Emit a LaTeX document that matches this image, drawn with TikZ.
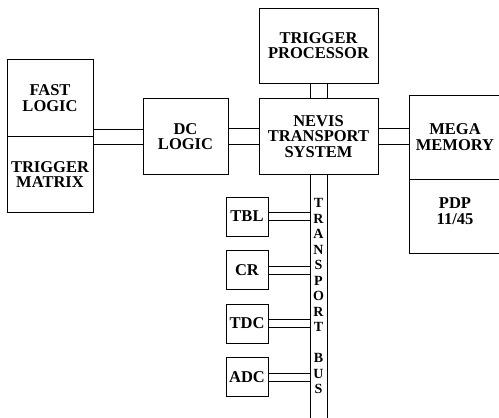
\documentclass[tikz,border=0pt]{standalone}
\usepackage{fontspec}
\setmainfont{Liberation Serif}
\usetikzlibrary{positioning}
\tikzset{
  unit/.style={draw, line width=0.9pt, inner sep=0pt, align=center,
    font=\fontsize{16.5}{15.5}\selectfont\bfseries},
  link/.style={line width=0.9pt},
}

\begin{document}
\begin{tikzpicture}[x=1pt,y=-1pt]
  \useasboundingbox (0,0) rectangle (499,418);
  % Left column
  \node[unit, minimum width=86pt, minimum height=77pt] (fast) at (50,98) {FAST\\LOGIC};
  \node[unit, minimum width=86pt, minimum height=76pt] (trigmatrix) at (50,174.5) {TRIGGER\\MATRIX};
  \node[unit, minimum width=85pt, minimum height=76pt] (dclogic) at (185.5,136.5) {DC\\LOGIC};
  % Centre column
  \node[unit, minimum width=119pt, minimum height=75pt] (trigproc) at (318.5,45.5) {TRIGGER\\PROCESSOR};
  \node[unit, minimum width=119pt, minimum height=76pt] (nevis) at (318.5,136.5) {NEVIS\\TRANSPORT\\SYSTEM};
  % Right column (cut at the page edge)
  \node[unit, minimum width=92pt, minimum height=84pt] (mega) at (455,137) {MEGA\\MEMORY};
  \node[unit, minimum width=92pt, minimum height=74pt, text depth=10pt] (pdp) at (455,216) {PDP\\11/45};
  % Crates on the bus
  \node[unit, minimum width=42pt, minimum height=39pt] (tbl) at (247,216.5) {TBL};
  \node[unit, minimum width=42pt, minimum height=39pt] (cr) at (247,270) {CR};
  \node[unit, minimum width=42pt, minimum height=39pt] (tdc) at (247,323.5) {TDC};
  \node[unit, minimum width=42pt, minimum height=39pt] (adc) at (247,377) {ADC};
  \coordinate (busend) at (318.5,425);
  \coordinate (busleft) at (310,0);
  % Links (pairs of lines)
  \foreach \s in {-1,1} {
    \draw[link] ([yshift=\s*7.75pt]fast.south east) -- ([yshift=\s*7.75pt]fast.south east -| dclogic.west);
    \draw[link] ([yshift=\s*7.75pt]dclogic.east) -- ([yshift=\s*7.75pt]nevis.west);
    \draw[link] ([yshift=\s*7.75pt]nevis.east) -- ([yshift=\s*7.75pt]nevis.east -| mega.west);
    \draw[link] ([xshift=\s*8.5pt]trigproc.south) -- ([xshift=\s*8.5pt]nevis.north);
    \draw[link] ([xshift=\s*8.5pt]nevis.south) -- ([xshift=\s*8.5pt]busend);
  }
  \foreach \crate in {tbl,cr,tdc,adc}
    \foreach \s in {-1,1}
      \draw[link] ([yshift=\s*4pt]\crate.east) -- ([yshift=\s*4pt]\crate.east -| busleft);
  % Bus label
  \node[inner sep=0pt, align=center, font=\fontsize{14}{15.5}\selectfont\bfseries]
    (buslabel) at (318.5,296) {T\\R\\A\\N\\S\\P\\O\\R\\T\\[15.5pt]B\\U\\S};
\end{tikzpicture}
\end{document}
